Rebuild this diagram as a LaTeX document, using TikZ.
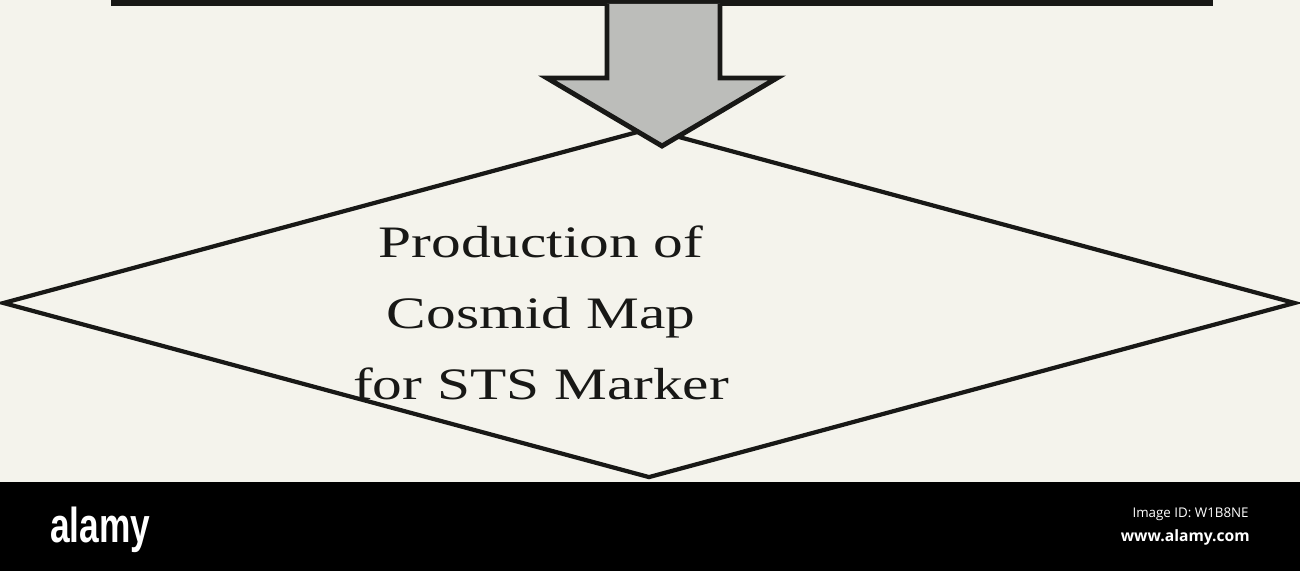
\documentclass[tikz,border=0pt]{standalone}
\usepackage{fontspec}
\setmainfont{Liberation Serif}
\newfontfamily\osans{Open Sans}
\newfontfamily\lsans{Liberation Sans}
\usetikzlibrary{shapes.geometric}
\definecolor{bgcream}{RGB}{244,243,236}
\definecolor{inkdark}{RGB}{24,24,22}
\definecolor{arrowgray}{RGB}{188,189,186}
\tikzset{
  outline/.style={draw=inkdark, line join=miter},
  flowtext/.style={align=center, inner sep=0pt, text=inkdark,
    font=\fontsize{25.6}{40.4}\selectfont},
  smallwhite/.style={text=white, inner sep=0pt}
}
\begin{document}
\begin{tikzpicture}[x=0.02cm, y=-0.02cm]
  \useasboundingbox (0,0) rectangle (1300,571);
  \clip (0,0) rectangle (1300,571);
  % background
  \fill[bgcream] (0,0) rectangle (1300,482);
  % top box (cut off by the top edge)
  \node[outline, line width=3.2pt, rectangle, minimum width=21.92cm,
        minimum height=2cm, inner sep=0pt, outer sep=0pt, anchor=south] (topbox) at (662,3) {};
  % diamond
  \node[outline, line width=2.4pt, diamond, minimum width=25.86cm,
        minimum height=7.0cm, inner sep=0pt] (dia) at (649,303) {};
  % block arrow from box to diamond
  \coordinate (tip) at (662,146);
  \filldraw[outline, fill=arrowgray, line width=2.8pt]
    (607,4) -- (607,78) -- (547,78) -- (tip) -- (777,78) -- (720,78) -- (720,4);
  % text
  \begin{scope}[shift={(541,313)}, xscale=1.32]
    \node[flowtext, transform shape] (txt) at (0,0)
      {Production of\\Cosmid Map\\for STS Marker};
  \end{scope}
  % bottom bar
  \fill[black] (0,482) rectangle (1300,571);
  \begin{scope}[shift={(50,542)}, xscale=0.72]
    \node[smallwhite, anchor=base west, transform shape,
          font=\lsans\bfseries\fontsize{27.9}{30}\selectfont] (logo) at (0,0) {alamy};
  \end{scope}
  \node[smallwhite, anchor=base east, font=\osans\fontsize{7.6}{9}\selectfont]
    (imgid) at (1249,517.5) {Image ID: W1B8NE};
  \node[smallwhite, anchor=base east, font=\osans\bfseries\fontsize{8.9}{10}\selectfont]
    (url) at (1250,541.5) {www.alamy.com};
\end{tikzpicture}
\end{document}
